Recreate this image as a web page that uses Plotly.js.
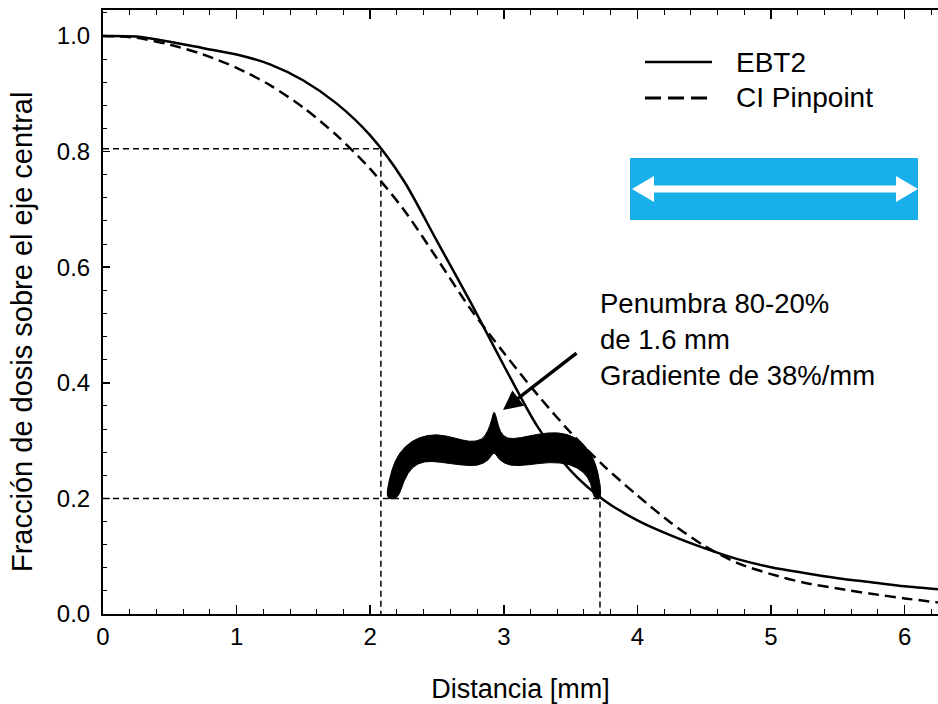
<!DOCTYPE html>
<html><head><meta charset="utf-8">
<script src="https://cdn.plot.ly/plotly-3.0.1.min.js"></script>
<style>html,body{margin:0;padding:0;background:#fff}</style>
</head><body><div id="chart" style="width:938px;height:704px"></div>
<script>
// ---- data ----
const distance = [0,0.25,0.5,0.75,1.0,1.25,1.5,1.75,2.0,2.25,2.5,2.75,3.0,3.25,3.5,3.75,4.0,4.25,4.5,4.75,5.0,5.25,5.5,5.75,6.0,6.25];
const ebt2     = [1.000,0.999,0.990,0.979,0.968,0.951,0.923,0.883,0.828,0.750,0.645,0.540,0.430,0.325,0.248,0.197,0.162,0.136,0.114,0.095,0.081,0.071,0.062,0.055,0.048,0.043];
const pinpoint = [1.000,0.997,0.985,0.968,0.945,0.915,0.876,0.828,0.770,0.700,0.615,0.528,0.452,0.380,0.314,0.256,0.205,0.158,0.118,0.088,0.069,0.054,0.044,0.035,0.027,0.020];
const seriesNames = ['EBT2', 'CI Pinpoint'];
const penumbraX = [2.08, 3.72];   // 80% and 20% positions [mm]
const penumbraY = [0.805, 0.2];   // dose fractions
const xTicks = [0,1,2,3,4,5,6];
const xTickText = ['0','1','2','3','4','5','6'];
const yTicks = [0,0.2,0.4,0.6,0.8,1.0];
const yTickText = ['0.0','0.2','0.4','0.6','0.8','1.0'];
const noteText = 'Penumbra 80-20%<br>de 1.6 mm<br>Gradiente de 38%/mm';
const xTitle = 'Distancia [mm]';
const yTitle = 'Fracción de dosis sobre el eje central';

// ---- layout geometry ----
const W = 938, H = 704, mL = 103, mR = 0, mT = 10, mB = 90;
const pW = W - mL - mR, pH = H - mT - mB;
const xRange = [0, 6.25], yRange = [0, 1.045];
const xp = px => (px - mL) / pW;             // pixel -> paper
const yp = py => (mT + pH - py) / pH;
const xd = px => xRange[0] + xp(px) * (xRange[1] - xRange[0]); // pixel -> data
const yd = py => yRange[0] + yp(py) * (yRange[1] - yRange[0]);
const FONT = '"Liberation Sans", Arial, Helvetica, sans-serif';

// brace outline (pixel guide points), smoothed with midpoint quadratics
const braceGuide = [
 [386,499],[389,480],[395,460],[405,446],[419,437],[437,434],[455,438],[470,442],[482,440],[488,431],[492,419],[494,410],
 [497,420],[500,432],[507,439],[520,438],[538,434],[558,432],[576,437],[590,451],[598,470],[602,499],
 [594,499],[591,483],[584,472],[570,464],[550,462],[528,465],[510,466],[499,460],[494,451],
 [489,460],[478,466],[460,465],[440,462],[424,461],[412,467],[404,480],[398,499]
];
function bracePath(){
  const p = braceGuide.map(q => [xd(q[0]), yd(q[1])]);
  const n = p.length;
  const mid = (a,b) => [(a[0]+b[0])/2, (a[1]+b[1])/2];
  let m0 = mid(p[n-1], p[0]);
  let s = 'M' + m0[0] + ',' + m0[1];
  for (let i = 0; i < n; i++){
    const c = p[i], m = mid(p[i], p[(i+1)%n]);
    s += ' Q' + c[0] + ',' + c[1] + ' ' + m[0] + ',' + m[1];
  }
  return s + ' Z';
}

const traces = [
  {x: distance, y: ebt2, name: seriesNames[0], type: 'scatter', mode: 'lines',
   line: {color: '#000', width: 2.5, shape: 'spline', smoothing: 0.8}, showlegend: false, hoverinfo: 'skip'},
  {x: distance, y: pinpoint, name: seriesNames[1], type: 'scatter', mode: 'lines',
   line: {color: '#000', width: 2.5, dash: '11px,6px', shape: 'spline', smoothing: 0.8}, showlegend: false, hoverinfo: 'skip'},
  {x: [xRange[0], penumbraX[0], penumbraX[0]], y: [penumbraY[0], penumbraY[0], yRange[0]], type: 'scatter', mode: 'lines',
   line: {color: '#000', width: 1.5, dash: '6px,4px'}, showlegend: false, hoverinfo: 'skip'},
  {x: [xRange[0], penumbraX[1], penumbraX[1]], y: [penumbraY[1], penumbraY[1], yRange[0]], type: 'scatter', mode: 'lines',
   line: {color: '#000', width: 1.5, dash: '6px,4px'}, showlegend: false, hoverinfo: 'skip'}
];

const shapes = [
  // custom legend samples
  {type:'line', xref:'paper', yref:'paper', x0: xp(645), x1: xp(712), y0: yp(62), y1: yp(62), line:{color:'#000', width:2.5}},
  {type:'line', xref:'paper', yref:'paper', x0: xp(645), x1: xp(712), y0: yp(98), y1: yp(98), line:{color:'#000', width:3, dash:'16px,7px'}},
  // blue box with white double arrow
  {type:'rect', xref:'paper', yref:'paper', x0: xp(630), x1: xp(918), y0: yp(220), y1: yp(158), fillcolor:'#19AFE9', line:{width:0}, layer:'above'},
  {type:'line', xref:'paper', yref:'paper', x0: xp(650), x1: xp(900), y0: yp(189), y1: yp(189), line:{color:'#fff', width:7}},
  {type:'path', xref:'paper', yref:'paper', path: 'M'+xp(632)+','+yp(189)+' L'+xp(654)+','+yp(176)+' L'+xp(654)+','+yp(202)+' Z', fillcolor:'#fff', line:{width:0}},
  {type:'path', xref:'paper', yref:'paper', path: 'M'+xp(918)+','+yp(189)+' L'+xp(896)+','+yp(176)+' L'+xp(896)+','+yp(202)+' Z', fillcolor:'#fff', line:{width:0}},
  // brace
  {type:'path', xref:'x', yref:'y', path: bracePath(), fillcolor:'#000', line:{color:'#000', width:1}}
];

const annotations = [
  {xref:'paper', yref:'paper', x: xp(734), y: yp(62), xanchor:'left', yanchor:'middle', showarrow:false,
   text: seriesNames[0], font:{family: FONT, size: 28, color:'#000'}},
  {xref:'paper', yref:'paper', x: xp(734), y: yp(98), xanchor:'left', yanchor:'middle', showarrow:false,
   text: seriesNames[1], font:{family: FONT, size: 28, color:'#000'}},
  {xref:'paper', yref:'paper', x: xp(598), y: yp(339), xanchor:'left', yanchor:'middle', align:'left', showarrow:false,
   text: noteText, font:{family: FONT, size: 27.5, color:'#000'}},
  {xref:'x', yref:'y', x: xd(503), y: yd(410), text:'', showarrow:true, arrowhead:2, arrowsize:1.1, arrowwidth:3.5,
   arrowcolor:'#000', ax: 75, ay: -58, standoff: 0},
  {xref:'paper', yref:'paper', x: xp(22), y: yp(332), xanchor:'center', yanchor:'middle', textangle:-90, showarrow:false,
   text: yTitle, font:{family: FONT, size: 29, color:'#000'}}
];

const layout = {
  width: W, height: H,
  margin: {l: mL, r: mR, t: mT, b: mB, pad: 0},
  paper_bgcolor: '#fff', plot_bgcolor: '#fff',
  font: {family: FONT, color: '#000'},
  showlegend: false,
  xaxis: {
    range: xRange, tickvals: xTicks, ticktext: xTickText,
    ticks: 'inside', ticklen: 9, tickwidth: 1.5, tickcolor: '#000',
    showline: true, linecolor: '#000', linewidth: 2, mirror: 'allticks',
    minor: {dtick: 0.2, tick0: 0, ticks: 'inside', ticklen: 5, tickwidth: 1, tickcolor: '#000', showgrid: false},
    showgrid: false, zeroline: false, tickfont: {size: 24, family: FONT, color: '#000'},
    title: {text: xTitle, font: {size: 27, family: FONT, color: '#000'}, standoff: 30},
    fixedrange: true
  },
  yaxis: {
    range: yRange, tickvals: yTicks, ticktext: yTickText,
    ticks: 'inside', ticklen: 7, tickwidth: 1.5, tickcolor: '#000',
    showline: true, linecolor: '#000', linewidth: 2, mirror: false,
    minor: {dtick: 0.04, tick0: 0, ticks: 'inside', ticklen: 4, tickwidth: 1, tickcolor: '#000', showgrid: false},
    showgrid: false, zeroline: false, tickfont: {size: 24, family: FONT, color: '#000'},
    ticklabelstandoff: 6,
    fixedrange: true
  },
  shapes: shapes,
  annotations: annotations
};

Plotly.newPlot('chart', traces, layout, {displayModeBar: false, staticPlot: true});
</script>
</body></html>
